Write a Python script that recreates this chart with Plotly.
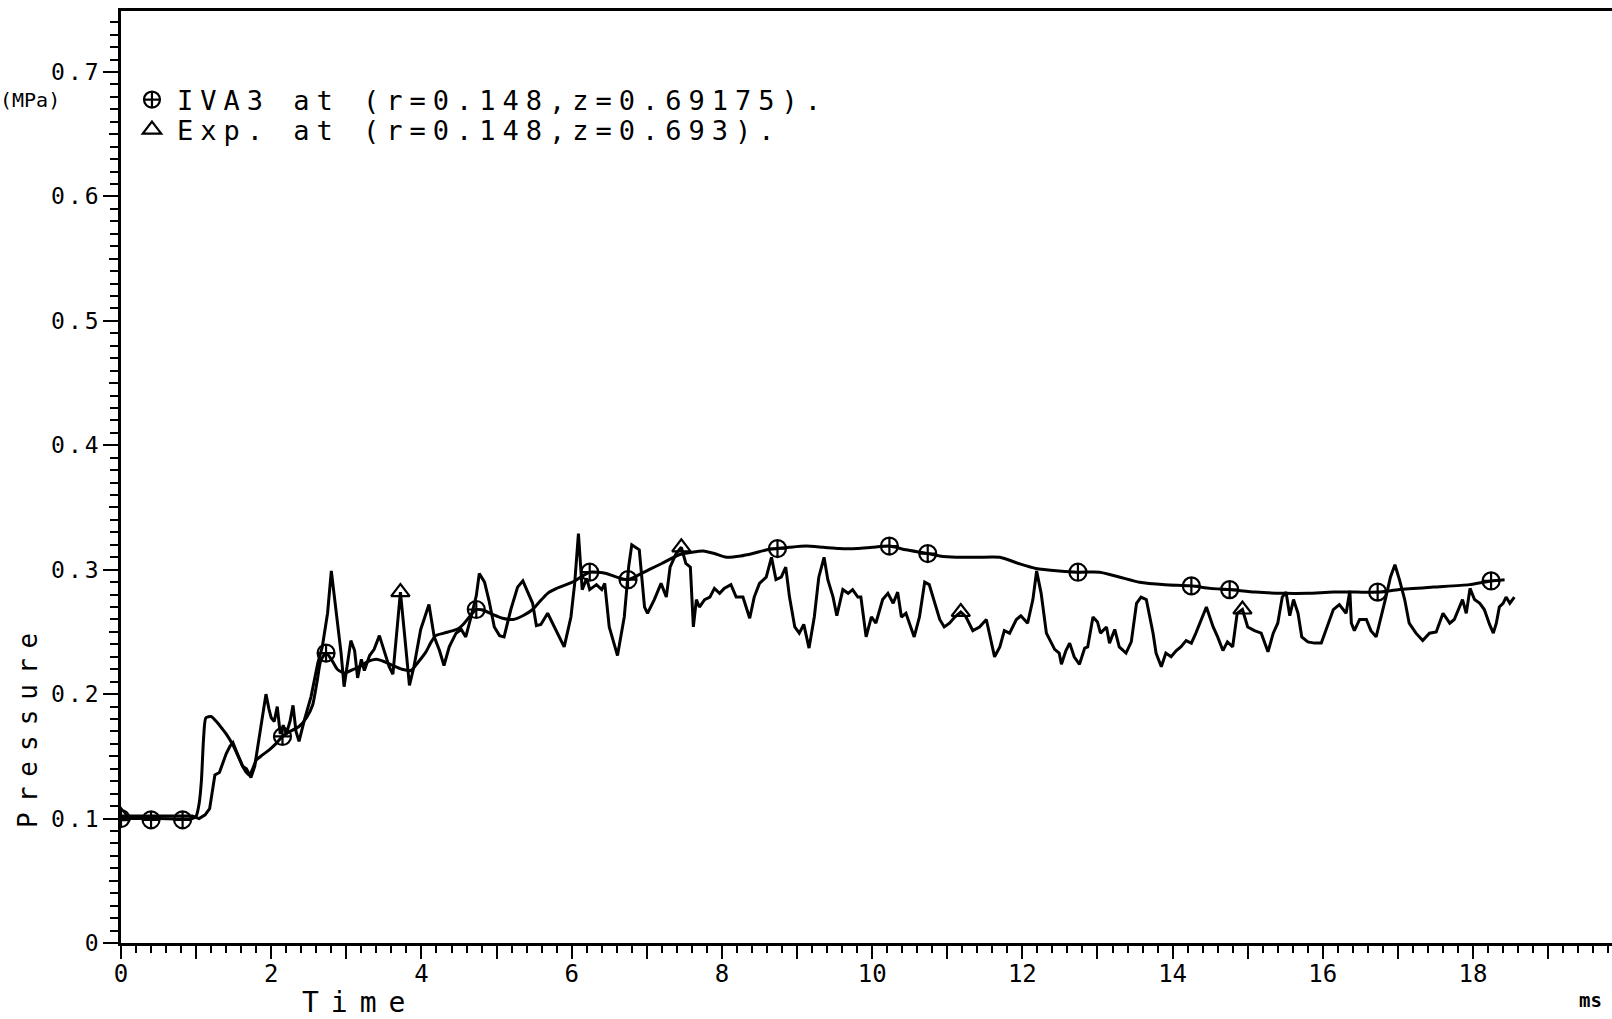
import plotly.graph_objects as go

# ---------------- data: pressure (MPa) versus time (ms) ----------------
# IVA3 computation at (r=0.148, z=0.69175)
iva3_t = [0, 0.5, 0.95, 1.00, 1.04, 1.07, 1.10, 1.13, 1.20, 1.27, 1.35, 1.40, 1.49, 1.56,
          1.62, 1.67, 1.71, 1.76, 1.80, 1.88, 1.97, 2.06, 2.15, 2.25, 2.37, 2.47, 2.55,
          2.61, 2.66, 2.73, 2.80, 2.88, 2.97, 3.06, 3.17, 3.28, 3.40, 3.51, 3.62, 3.74,
          3.86, 3.96, 4.06, 4.13, 4.19, 4.30, 4.42, 4.50, 4.57, 4.65, 4.73, 4.84, 4.95,
          5.08, 5.22, 5.35, 5.48, 5.57, 5.68, 5.80, 6.01, 6.24, 6.46, 6.60, 6.75, 6.90,
          7.03, 7.20, 7.43, 7.60, 7.75, 7.90, 8.06, 8.25, 8.41, 8.60, 8.74, 8.90, 9.12,
          9.35, 9.56, 9.80, 10.00, 10.23, 10.45, 10.74, 10.90, 11.12, 11.40, 11.70, 11.95,
          12.18, 12.49, 12.74, 13.03, 13.30, 13.56, 13.90, 14.25, 14.50, 14.76, 15.10,
          15.47, 15.80, 16.14, 16.45, 16.73, 17.02, 17.47, 17.95, 18.24, 18.42]
iva3_p = [0.100, 0.100, 0.100, 0.102, 0.112, 0.130, 0.165, 0.181, 0.182, 0.178, 0.172,
          0.168, 0.159, 0.150, 0.142, 0.137, 0.135, 0.141, 0.147, 0.151, 0.155, 0.160,
          0.166, 0.170, 0.174, 0.181, 0.191, 0.210, 0.227, 0.233, 0.228, 0.220, 0.217,
          0.219, 0.222, 0.226, 0.228, 0.226, 0.223, 0.220, 0.219, 0.226, 0.234, 0.242,
          0.247, 0.249, 0.251, 0.253, 0.257, 0.263, 0.268, 0.267, 0.264, 0.261, 0.260,
          0.263, 0.268, 0.274, 0.281, 0.285, 0.290, 0.298, 0.297, 0.294, 0.292, 0.296,
          0.300, 0.305, 0.312, 0.314, 0.315, 0.313, 0.310, 0.311, 0.313, 0.316, 0.317,
          0.318, 0.319, 0.318, 0.317, 0.317, 0.318, 0.319, 0.316, 0.313, 0.311, 0.310,
          0.310, 0.310, 0.305, 0.301, 0.299, 0.298, 0.298, 0.294, 0.290, 0.288, 0.287,
          0.285, 0.284, 0.282, 0.281, 0.281, 0.282, 0.282, 0.282, 0.284, 0.286, 0.288,
          0.291, 0.292]
iva3_mark_t = [0, 0.40, 0.82, 2.15, 2.73, 4.73, 6.24, 6.75, 8.74, 10.23, 10.74, 12.74,
               14.25, 14.76, 16.73, 18.24]
iva3_mark_p = [0.100, 0.099, 0.099, 0.166, 0.233, 0.268, 0.298, 0.292, 0.317, 0.319,
               0.313, 0.298, 0.287, 0.284, 0.282, 0.291]

# Experiment at (r=0.148, z=0.693)
exp_t = [0, 0.5, 0.95, 1.04, 1.12, 1.18, 1.22, 1.25, 1.31, 1.36, 1.40, 1.45, 1.49, 1.55,
         1.62, 1.67, 1.73, 1.78, 1.82, 1.86, 1.90, 1.93, 1.97, 2.00, 2.04, 2.08, 2.12,
         2.16, 2.20, 2.25, 2.29, 2.33, 2.37, 2.44, 2.53, 2.62, 2.68, 2.75, 2.80, 2.87,
         2.93, 2.97, 3.02, 3.06, 3.11, 3.15, 3.20, 3.24, 3.31, 3.37, 3.44, 3.51, 3.57,
         3.62, 3.67, 3.72, 3.77, 3.84, 3.90, 3.99, 4.10, 4.17, 4.24, 4.30, 4.37, 4.46,
         4.53, 4.59, 4.66, 4.73, 4.77, 4.84, 4.90, 4.97, 5.04, 5.10, 5.19, 5.28, 5.35,
         5.44, 5.48, 5.53, 5.59, 5.68, 5.77, 5.90, 5.99, 6.04, 6.09, 6.14, 6.20, 6.24,
         6.33, 6.40, 6.44, 6.50, 6.61, 6.70, 6.76, 6.80, 6.90, 6.97, 7.01, 7.10, 7.19,
         7.26, 7.31, 7.39, 7.46, 7.52, 7.58, 7.62, 7.66, 7.70, 7.77, 7.84, 7.90, 7.97,
         8.03, 8.12, 8.19, 8.28, 8.37, 8.43, 8.50, 8.59, 8.66, 8.72, 8.79, 8.85, 8.90,
         8.97, 9.03, 9.09, 9.16, 9.23, 9.29, 9.36, 9.41, 9.48, 9.53, 9.61, 9.68, 9.74,
         9.81, 9.85, 9.92, 9.99, 10.05, 10.14, 10.21, 10.28, 10.34, 10.39, 10.45, 10.50,
         10.56, 10.63, 10.70, 10.76, 10.83, 10.90, 10.96, 11.03, 11.10, 11.18, 11.25,
         11.34, 11.43, 11.52, 11.63, 11.70, 11.76, 11.83, 11.92, 11.98, 12.07, 12.14,
         12.19, 12.25, 12.32, 12.43, 12.49, 12.52, 12.58, 12.63, 12.69, 12.76, 12.83,
         12.87, 12.94, 13.00, 13.04, 13.12, 13.16, 13.23, 13.29, 13.38, 13.45, 13.52,
         13.58, 13.65, 13.74, 13.78, 13.85, 13.91, 13.98, 14.05, 14.11, 14.18, 14.25,
         14.31, 14.45, 14.54, 14.60, 14.67, 14.73, 14.80, 14.86, 14.93, 15.00, 15.09,
         15.18, 15.27, 15.34, 15.40, 15.46, 15.51, 15.56, 15.61, 15.67, 15.72, 15.80,
         15.89, 15.98, 16.07, 16.14, 16.22, 16.31, 16.36, 16.38, 16.42, 16.49, 16.58,
         16.64, 16.71, 16.78, 16.84, 16.90, 16.96, 17.02, 17.09, 17.15, 17.24, 17.33,
         17.42, 17.51, 17.60, 17.69, 17.75, 17.86, 17.91, 17.96, 18.02, 18.09, 18.15,
         18.22, 18.27, 18.31, 18.35, 18.40, 18.44, 18.49, 18.55]
exp_p = [0.102, 0.102, 0.102, 0.100, 0.103, 0.108, 0.125, 0.135, 0.137, 0.145, 0.152,
         0.158, 0.161, 0.152, 0.142, 0.140, 0.133, 0.142, 0.158, 0.172, 0.190, 0.200,
         0.188, 0.181, 0.178, 0.190, 0.168, 0.175, 0.168, 0.178, 0.191, 0.170, 0.162,
         0.179, 0.198, 0.225, 0.238, 0.265, 0.299, 0.262, 0.233, 0.206, 0.225, 0.243,
         0.235, 0.213, 0.228, 0.219, 0.231, 0.236, 0.247, 0.233, 0.222, 0.216, 0.251,
         0.282, 0.251, 0.207, 0.222, 0.252, 0.272, 0.246, 0.235, 0.223, 0.238, 0.249,
         0.252, 0.246, 0.262, 0.279, 0.297, 0.290, 0.275, 0.254, 0.247, 0.246, 0.268,
         0.286, 0.291, 0.278, 0.273, 0.255, 0.256, 0.265, 0.254, 0.238, 0.262, 0.289,
         0.329, 0.284, 0.293, 0.284, 0.288, 0.284, 0.289, 0.254, 0.231, 0.262, 0.303,
         0.320, 0.316, 0.270, 0.265, 0.276, 0.289, 0.278, 0.302, 0.313, 0.318, 0.305,
         0.302, 0.254, 0.276, 0.270, 0.276, 0.278, 0.285, 0.281, 0.285, 0.288, 0.278,
         0.278, 0.261, 0.278, 0.289, 0.294, 0.310, 0.292, 0.294, 0.302, 0.278, 0.254,
         0.249, 0.256, 0.237, 0.262, 0.294, 0.310, 0.292, 0.278, 0.263, 0.284, 0.281,
         0.284, 0.278, 0.278, 0.246, 0.262, 0.257, 0.276, 0.281, 0.273, 0.282, 0.262,
         0.265, 0.257, 0.246, 0.262, 0.290, 0.288, 0.273, 0.260, 0.254, 0.257, 0.262,
         0.266, 0.262, 0.251, 0.254, 0.260, 0.230, 0.238, 0.251, 0.249, 0.260, 0.263,
         0.257, 0.276, 0.299, 0.281, 0.249, 0.236, 0.233, 0.224, 0.235, 0.241, 0.230,
         0.224, 0.237, 0.238, 0.262, 0.258, 0.249, 0.254, 0.241, 0.252, 0.238, 0.233,
         0.242, 0.273, 0.278, 0.276, 0.249, 0.233, 0.222, 0.233, 0.230, 0.235, 0.238,
         0.243, 0.241, 0.249, 0.270, 0.254, 0.246, 0.235, 0.242, 0.238, 0.265, 0.268,
         0.254, 0.251, 0.249, 0.234, 0.249, 0.257, 0.278, 0.282, 0.263, 0.276, 0.265,
         0.246, 0.242, 0.241, 0.241, 0.257, 0.268, 0.272, 0.265, 0.283, 0.257, 0.251,
         0.260, 0.260, 0.251, 0.246, 0.262, 0.278, 0.294, 0.304, 0.292, 0.276, 0.257,
         0.249, 0.243, 0.249, 0.250, 0.265, 0.257, 0.260, 0.276, 0.265, 0.285, 0.276,
         0.273, 0.268, 0.256, 0.249, 0.257, 0.270, 0.273, 0.278, 0.273, 0.278]
exp_mark_t = [0, 3.72, 7.46, 11.18, 14.93]
exp_mark_p = [0.102, 0.282, 0.318, 0.266, 0.268]

# axis ticks
x_tick_vals = list(range(0, 20))
x_tick_text = [str(v) if v % 2 == 0 else "" for v in x_tick_vals]
y_tick_vals = [0, 0.1, 0.2, 0.3, 0.4, 0.5, 0.6, 0.7]
y_tick_text = ["0", "0.1", "0.2", "0.3", "0.4", "0.5", "0.6", "0.7"]
y_mid_ticks = [0.05, 0.15, 0.25, 0.35, 0.45, 0.55, 0.65]

iva3_label = "IVA3 at (r=0.148,z=0.69175)."
exp_label = "Exp. at (r=0.148,z=0.693)."

FONT = "DejaVu Sans Mono"
INK = "black"
X_MAX = 19.85
Y_MAX = 0.749
LINE_W = 3


def spaced(text, px):
    """Wrap text so the plotter-style wide letter spacing is reproduced."""
    return f'<span style="letter-spacing:{px}px">{text}</span>'


fig = go.Figure()

fig.add_trace(go.Scatter(x=exp_t, y=exp_p, mode="lines",
                         line=dict(color=INK, width=LINE_W), showlegend=False,
                         hoverinfo="skip"))
fig.add_trace(go.Scatter(x=iva3_t, y=iva3_p, mode="lines",
                         line=dict(color=INK, width=LINE_W, shape="spline", smoothing=0.6),
                         showlegend=False, hoverinfo="skip"))
fig.add_trace(go.Scatter(x=iva3_mark_t, y=iva3_mark_p, mode="markers",
                         marker=dict(symbol="circle-cross-open", size=17, color=INK,
                                     line=dict(width=2.2, color=INK)),
                         name=spaced(iva3_label, 7), legend="legend"))
fig.add_trace(go.Scatter(x=exp_mark_t, y=exp_mark_p, mode="markers",
                         marker=dict(symbol="triangle-up-open", size=16, color=INK,
                                     line=dict(width=2.2, color=INK)),
                         name=spaced(exp_label, 7), legend="legend2"))
# carrier for the 0.05-step tick marks on the pressure axis
fig.add_trace(go.Scatter(x=[None], y=[None], yaxis="y2", showlegend=False,
                         hoverinfo="skip"))

legend_common = dict(xanchor="left", yanchor="middle", bgcolor="rgba(0,0,0,0)",
                     borderwidth=0, font=dict(family=FONT, size=27, color=INK),
                     itemwidth=40)

fig.update_layout(
    width=1612, height=1019,
    margin=dict(l=121, r=0, t=11, b=76, pad=0),
    paper_bgcolor="white", plot_bgcolor="white",
    font=dict(family=FONT, color=INK),
    legend=dict(x=0.004, y=0.9045, **legend_common),
    legend2=dict(x=0.004, y=0.8723, **legend_common),
    xaxis=dict(
        range=[0, X_MAX], showline=True, linecolor=INK, linewidth=2.5, mirror=True,
        showgrid=False, zeroline=False,
        ticks="outside", ticklen=13, tickwidth=2, tickcolor=INK,
        tickmode="array", tickvals=x_tick_vals, ticktext=x_tick_text,
        tickfont=dict(family=FONT, size=24, color=INK),
        ticklabelstandoff=-6,
        minor=dict(tickmode="linear", tick0=0, dtick=0.2, ticks="outside",
                   ticklen=7, tickwidth=2, tickcolor=INK, showgrid=False),
    ),
    yaxis=dict(
        range=[0, Y_MAX], showline=True, linecolor=INK, linewidth=2.5,
        showgrid=False, zeroline=False,
        ticks="outside", ticklen=15, tickwidth=2, tickcolor=INK,
        tickmode="array", tickvals=y_tick_vals,
        ticktext=[spaced(t, 3) for t in y_tick_text],
        tickfont=dict(family=FONT, size=23, color=INK),
        ticklabelstandoff=-3,
        minor=dict(tickmode="linear", tick0=0, dtick=0.01, ticks="outside",
                   ticklen=8, tickwidth=2, tickcolor=INK, showgrid=False),
    ),
    yaxis2=dict(
        range=[0, Y_MAX], overlaying="y", side="left", showline=False,
        showgrid=False, zeroline=False, showticklabels=False,
        ticks="outside", ticklen=11, tickwidth=2, tickcolor=INK,
        tickmode="array", tickvals=y_mid_ticks,
    ),
    annotations=[
        dict(text="(MPa)", x=-0.061, y=0.9045, xref="paper", yref="paper",
             showarrow=False, xanchor="center", yanchor="middle",
             font=dict(family=FONT, size=20, color=INK)),
        dict(text=spaced("Pressure", 10), x=-0.0624, y=0.2339, xref="paper",
             yref="paper", showarrow=False, textangle=-90,
             xanchor="center", yanchor="middle",
             font=dict(family=FONT, size=26, color=INK)),
        dict(text=spaced("Time", 12), x=0.1600, y=-0.0635, xref="paper", yref="paper",
             showarrow=False, xanchor="center", yanchor="middle",
             font=dict(family=FONT, size=28, color=INK)),
        dict(text="ms", x=0.9859, y=-0.0612, xref="paper", yref="paper",
             showarrow=False, xanchor="center", yanchor="middle",
             font=dict(family=FONT, size=19, color=INK, weight="bold")),
    ],
)

fig.write_html("out.html", config={"displayModeBar": False})
